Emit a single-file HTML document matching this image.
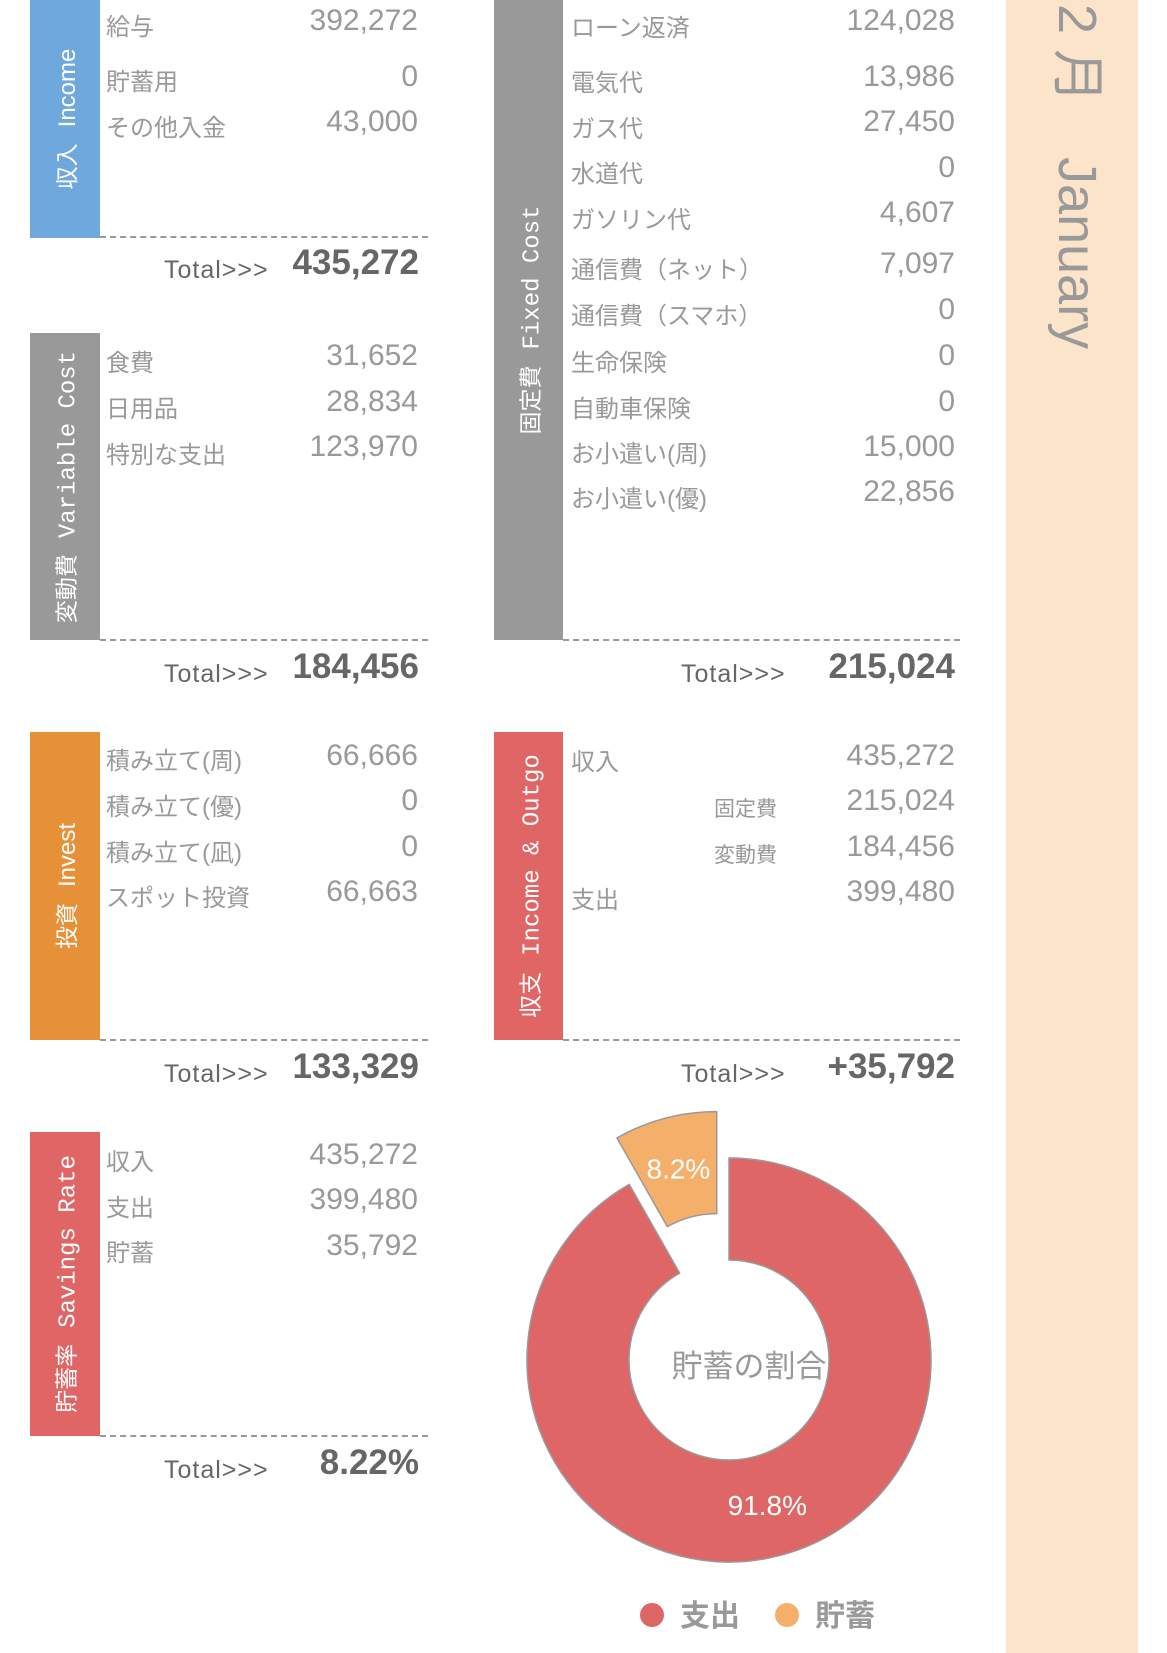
<!DOCTYPE html>
<html><head><meta charset="utf-8">
<style>
html,body{margin:0;padding:0;}
body{width:1167px;height:1653px;position:relative;background:#fff;overflow:hidden;font-family:"Liberation Sans","Noto Sans CJK JP",sans-serif;}
.bar{position:absolute;}
.vt{position:absolute;left:50%;top:50%;white-space:nowrap;color:#fff;font-size:23px;transform:translate(-50%,-50%) rotate(-90deg);}
.vt .en{font-family:"Liberation Mono",monospace;font-size:24px;margin-left:16px;}
.lb{position:absolute;color:#999;font-size:24px;white-space:nowrap;line-height:1;}
.val{position:absolute;color:#999;font-size:30px;white-space:nowrap;line-height:1;text-align:right;width:200px;}
.dash{position:absolute;height:0;border-top:2px dashed #999;}
.tl{position:absolute;color:#666;font-size:25px;letter-spacing:1px;line-height:1;white-space:nowrap;}
.tv{position:absolute;color:#666;font-size:35px;font-weight:bold;line-height:1;text-align:right;width:220px;white-space:nowrap;}
.sm{position:absolute;color:#999;font-size:21px;line-height:1;white-space:nowrap;}
</style></head>
<body>
<div style="position:absolute;left:1006px;top:0;width:132px;height:1653px;background:#fce4cb;">
  <div style="position:absolute;left:98px;top:4px;transform-origin:0 0;transform:rotate(90deg);color:#999;font-size:54px;white-space:nowrap;line-height:1;">2 月　January</div>
</div>

<!-- Income -->
<div class="bar" style="left:30px;top:0;width:70px;height:238px;background:#6fa8dc;"><div class="vt">収入<span class="en" style="font-family:'Liberation Sans',sans-serif">Income</span></div></div>
<div class="lb" style="left:106px;top:16px;">給与</div>
<div class="val" style="left:218px;top:6px;">392,272</div>
<div class="lb" style="left:106px;top:71px;">貯蓄用</div>
<div class="val" style="left:218px;top:62px;">0</div>
<div class="lb" style="left:106px;top:117px;">その他入金</div>
<div class="val" style="left:218px;top:107px;">43,000</div>
<div class="dash" style="left:100px;top:236px;width:328px;"></div>
<div class="tl" style="left:164px;top:258px;">Total&gt;&gt;&gt;</div>
<div class="tv" style="left:199px;top:245px;">435,272</div>

<!-- Variable -->
<div class="bar" style="left:30px;top:333px;width:70px;height:307px;background:#999;"><div class="vt">変動費<span class="en">Variable Cost</span></div></div>
<div class="lb" style="left:106px;top:352px;">食費</div>
<div class="val" style="left:218px;top:341px;">31,652</div>
<div class="lb" style="left:106px;top:398px;">日用品</div>
<div class="val" style="left:218px;top:387px;">28,834</div>
<div class="lb" style="left:106px;top:444px;">特別な支出</div>
<div class="val" style="left:218px;top:432px;">123,970</div>
<div class="dash" style="left:100px;top:639px;width:328px;"></div>
<div class="tl" style="left:164px;top:662px;">Total&gt;&gt;&gt;</div>
<div class="tv" style="left:199px;top:649px;">184,456</div>

<!-- Invest -->
<div class="bar" style="left:30px;top:732px;width:70px;height:308px;background:#e69138;"><div class="vt">投資<span class="en" style="font-family:'Liberation Sans',sans-serif">Invest</span></div></div>
<div class="lb" style="left:106px;top:750px;">積み立て(周)</div>
<div class="val" style="left:218px;top:741px;">66,666</div>
<div class="lb" style="left:106px;top:796px;">積み立て(優)</div>
<div class="val" style="left:218px;top:786px;">0</div>
<div class="lb" style="left:106px;top:842px;">積み立て(凪)</div>
<div class="val" style="left:218px;top:832px;">0</div>
<div class="lb" style="left:106px;top:887px;">スポット投資</div>
<div class="val" style="left:218px;top:877px;">66,663</div>
<div class="dash" style="left:100px;top:1039px;width:328px;"></div>
<div class="tl" style="left:164px;top:1062px;">Total&gt;&gt;&gt;</div>
<div class="tv" style="left:199px;top:1049px;">133,329</div>

<!-- Savings rate -->
<div class="bar" style="left:30px;top:1132px;width:70px;height:304px;background:#e06666;"><div class="vt">貯蓄率<span class="en">Savings Rate</span></div></div>
<div class="lb" style="left:106px;top:1151px;">収入</div>
<div class="val" style="left:218px;top:1140px;">435,272</div>
<div class="lb" style="left:106px;top:1197px;">支出</div>
<div class="val" style="left:218px;top:1185px;">399,480</div>
<div class="lb" style="left:106px;top:1242px;">貯蓄</div>
<div class="val" style="left:218px;top:1231px;">35,792</div>
<div class="dash" style="left:100px;top:1435px;width:328px;"></div>
<div class="tl" style="left:164px;top:1458px;">Total&gt;&gt;&gt;</div>
<div class="tv" style="left:199px;top:1445px;">8.22%</div>

<!-- Fixed -->
<div class="bar" style="left:494px;top:0;width:69px;height:640px;background:#999;"><div class="vt">固定費<span class="en">Fixed Cost</span></div></div>
<div class="lb" style="left:571px;top:17px;">ローン返済</div>
<div class="val" style="left:755px;top:6px;">124,028</div>
<div class="lb" style="left:571px;top:72px;">電気代</div>
<div class="val" style="left:755px;top:62px;">13,986</div>
<div class="lb" style="left:571px;top:118px;">ガス代</div>
<div class="val" style="left:755px;top:107px;">27,450</div>
<div class="lb" style="left:571px;top:163px;">水道代</div>
<div class="val" style="left:755px;top:153px;">0</div>
<div class="lb" style="left:571px;top:209px;">ガソリン代</div>
<div class="val" style="left:755px;top:198px;">4,607</div>
<div class="lb" style="left:571px;top:259px;">通信費（ネット）</div>
<div class="val" style="left:755px;top:249px;">7,097</div>
<div class="lb" style="left:571px;top:305px;">通信費（スマホ）</div>
<div class="val" style="left:755px;top:295px;">0</div>
<div class="lb" style="left:571px;top:352px;">生命保険</div>
<div class="val" style="left:755px;top:341px;">0</div>
<div class="lb" style="left:571px;top:398px;">自動車保険</div>
<div class="val" style="left:755px;top:387px;">0</div>
<div class="lb" style="left:571px;top:443px;">お小遣い(周)</div>
<div class="val" style="left:755px;top:432px;">15,000</div>
<div class="lb" style="left:571px;top:488px;">お小遣い(優)</div>
<div class="val" style="left:755px;top:477px;">22,856</div>
<div class="dash" style="left:563px;top:639px;width:397px;"></div>
<div class="tl" style="left:681px;top:662px;">Total&gt;&gt;&gt;</div>
<div class="tv" style="left:735px;top:649px;">215,024</div>

<!-- Income & Outgo -->
<div class="bar" style="left:494px;top:732px;width:69px;height:308px;background:#e06666;"><div class="vt">収支<span class="en">Income &amp; Outgo</span></div></div>
<div class="lb" style="left:571px;top:751px;">収入</div>
<div class="val" style="left:755px;top:741px;">435,272</div>
<div class="sm" style="left:714px;top:799px;">固定費</div>
<div class="val" style="left:755px;top:786px;">215,024</div>
<div class="sm" style="left:714px;top:845px;">変動費</div>
<div class="val" style="left:755px;top:832px;">184,456</div>
<div class="lb" style="left:571px;top:889px;">支出</div>
<div class="val" style="left:755px;top:877px;">399,480</div>
<div class="dash" style="left:563px;top:1039px;width:397px;"></div>
<div class="tl" style="left:681px;top:1062px;">Total&gt;&gt;&gt;</div>
<div class="tv" style="left:735px;top:1049px;">+35,792</div>

<svg id="chart" width="1167" height="1653" style="position:absolute;left:0;top:0;" xmlns="http://www.w3.org/2000/svg"></svg>
<script>
const categories = ['支出', '貯蓄'];
const seriesValues = [399480, 35792];
const sliceColors = ['#df6666', '#f4b06a'];
const explode = [0, 1];
const centerTitle = '貯蓄の割合';

const svg = document.getElementById('chart');
const NS = 'http://www.w3.org/2000/svg';
const cx = 729, cy = 1360, R = 202, r = 100, sy = 1, off = 48, labR = 150;
const total = seriesValues.reduce((a, b) => a + b, 0);
function pt(a, rad, dx, dy) { return [cx + dx + rad * Math.sin(a), cy + (dy - rad * Math.cos(a)) * sy]; }
let start = 0;
seriesValues.forEach((v, i) => {
  const frac = v / total;
  const end = start + frac * 2 * Math.PI;
  const mid = (start + end) / 2;
  const dx = explode[i] ? off * Math.sin(mid) : 0;
  const dy = explode[i] ? -off * Math.cos(mid) : 0;
  const large = end - start > Math.PI ? 1 : 0;
  const p1 = pt(start, R, dx, dy), p2 = pt(end, R, dx, dy), p3 = pt(end, r, dx, dy), p4 = pt(start, r, dx, dy);
  const d = `M${p1[0]},${p1[1]} A${R},${R * sy} 0 ${large} 1 ${p2[0]},${p2[1]} L${p3[0]},${p3[1]} A${r},${r * sy} 0 ${large} 0 ${p4[0]},${p4[1]} Z`;
  const path = document.createElementNS(NS, 'path');
  path.setAttribute('d', d);
  path.setAttribute('fill', sliceColors[i]);
  path.setAttribute('stroke', '#999');
  path.setAttribute('stroke-width', '1.5');
  
  
  svg.appendChild(path);
  const lp = pt(mid, labR + (explode[i] ? off : 0), 0, 0);
  const t = document.createElementNS(NS, 'text');
  t.setAttribute('x', lp[0]); t.setAttribute('y', lp[1] + 10);
  t.setAttribute('text-anchor', 'middle'); t.setAttribute('fill', '#fff');
  t.setAttribute('font-size', '28'); t.setAttribute('font-family', 'Liberation Sans, sans-serif');
  t.textContent = (frac * 100).toFixed(1) + '%';
  
  
  svg.appendChild(t);
  start = end;
});
const ct = document.createElementNS(NS, 'text');
ct.setAttribute('x', 749); ct.setAttribute('y', 1377);
ct.setAttribute('text-anchor', 'middle'); ct.setAttribute('fill', '#999');
ct.setAttribute('font-size', '31'); ct.setAttribute('font-family', 'Liberation Sans, Noto Sans CJK JP, sans-serif');
ct.textContent = centerTitle;


svg.appendChild(ct);
const legendX = [652, 787];
categories.forEach((c, i) => {
  const g = document.createElementNS(NS, 'g');
  
  
  const dot = document.createElementNS(NS, 'circle');
  dot.setAttribute('cx', legendX[i]); dot.setAttribute('cy', 1615); dot.setAttribute('r', 12);
  dot.setAttribute('fill', sliceColors[i]);
  g.appendChild(dot);
  const lt = document.createElementNS(NS, 'text');
  lt.setAttribute('x', legendX[i] + 28); lt.setAttribute('y', 1626);
  lt.setAttribute('fill', '#999'); lt.setAttribute('font-size', '30'); lt.setAttribute('font-weight', 'bold');
  lt.setAttribute('font-family', 'Liberation Sans, Noto Sans CJK JP, sans-serif');
  lt.textContent = c;
  g.appendChild(lt);
  svg.appendChild(g);
});
</script>
</body></html>
